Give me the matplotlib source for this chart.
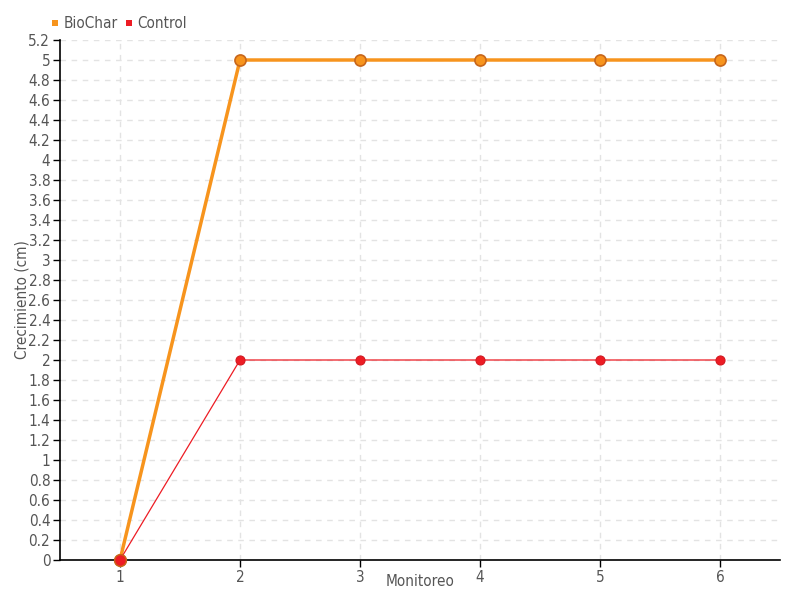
import matplotlib
matplotlib.use("Agg")
import matplotlib.pyplot as plt
from matplotlib.ticker import MultipleLocator, FuncFormatter

monitoreo = [1, 2, 3, 4, 5, 6]
biochar = [0, 5, 5, 5, 5, 5]
control = [0, 2, 2, 2, 2, 2]

plt.rcParams["font.family"] = ["DejaVu Sans"]
plt.rcParams["font.stretch"] = "condensed"

fig = plt.figure(figsize=(8, 6), dpi=100)
ax = fig.add_axes([60 / 800, 40 / 600, 720 / 800, 520 / 600])

ax.plot(monitoreo, biochar, color="#f7941d", lw=2.5, marker="o", ms=8,
        mfc="#f7941d", mec="#c8661a", mew=1.2, label="BioChar", zorder=3,
        clip_on=False)
ax.plot(monitoreo, control, color="#ed1c24", lw=0.9, marker="o", ms=6.5,
        mfc="#ed1c24", mec="#d41820", mew=0.8, label="Control", zorder=4,
        clip_on=False)
# first control point sits on top of the BioChar start
ax.plot(monitoreo[:1], control[:1], ls="none", marker="o", ms=8.5,
        mfc="#ed1c24", mec="#c8661a", mew=1, zorder=5, clip_on=False)

ax.set_xlim(0.5, 6.5)
ax.set_ylim(0, 5.2)
ax.xaxis.set_major_locator(MultipleLocator(1))
ax.yaxis.set_major_locator(MultipleLocator(0.2))
ax.yaxis.set_major_formatter(FuncFormatter(lambda v, p: "{:g}".format(round(v, 1))))

ax.grid(True, color="#e3e3e3", ls=(0, (4, 4)), lw=1)
ax.set_axisbelow(True)
for s in ["top", "right"]:
    ax.spines[s].set_visible(False)
ax.spines["left"].set_linewidth(1.2)
ax.spines["bottom"].set_linewidth(1.2)
ax.tick_params(axis="both", labelcolor="#555555", labelsize=11, length=5,
               width=1, color="#000000", pad=2)

ax.set_xlabel("Monitoreo", color="#555555", fontsize=11)
ax.set_ylabel("Crecimiento (cm)", color="#555555", fontsize=11)
ax.xaxis.set_label_coords(0.5, -0.027)
ax.yaxis.set_label_coords(-0.043, 0.5)

leg = fig.legend(loc="upper left", bbox_to_anchor=(45 / 800, 1 - 10 / 600), ncol=2,
                 frameon=False, fontsize=11, handlelength=0.5, handletextpad=0.3,
                 columnspacing=0.5, borderaxespad=0)
for h in leg.legend_handles:
    h.set_linestyle("none")
    h.set_marker("s")
    h.set_markersize(5)
    h.set_markeredgewidth(0)
for t in leg.get_texts():
    t.set_color("#555555")

fig.savefig("out.png", dpi=100)
